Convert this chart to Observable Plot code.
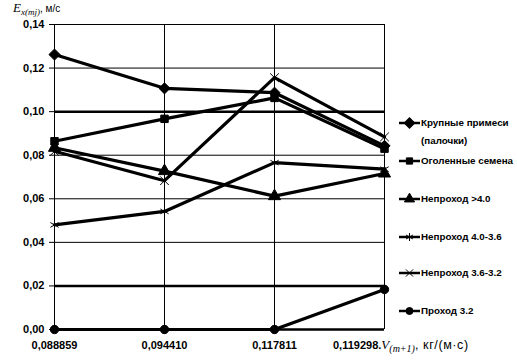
<!DOCTYPE html>
<html><head><meta charset="utf-8">
<script src="https://cdn.jsdelivr.net/npm/d3@7"></script>
<script src="https://cdn.jsdelivr.net/npm/@observablehq/plot@0.6"></script>
<style>
body{margin:0;background:#fff;}
#chart{position:relative;width:517px;height:360px;}
svg text{font-family:"Liberation Sans","Arial",sans-serif;}
</style></head><body><div id="chart"></div>
<script>
const categories = ["0,088859","0,094410","0,117811","0,119298"];
const seriesNames = ["Крупные примеси (палочки)","Оголенные семена","Непроход >4.0","Непроход 4.0-3.6","Непроход 3.6-3.2","Проход 3.2"];
const krupnye = [0.1262, 0.1107, 0.1087, 0.0843];
const ogolennye = [0.0864, 0.0967, 0.1063, 0.0830];
const neprohod40 = [0.0834, 0.0727, 0.0612, 0.0716];
const neprohod4036 = [0.0480, 0.0542, 0.0766, 0.0736];
const neprohod3632 = [0.0818, 0.0683, 0.1156, 0.0884];
const prohod32 = [0, 0, 0, 0.0184];
const yTicks = [0, 0.02, 0.04, 0.06, 0.08, 0.10, 0.12, 0.14];
const thickGrid = [0, 0.02, 0.10];

const allValues = [krupnye, ogolennye, neprohod40, neprohod4036, neprohod3632, prohod32];
const symbols = ["diamond2", "square", "triangle", "asterisk", "times", "circle"];
const filled = [true, true, true, false, false, true];
const radii = [5, 4.2, 4.5, 4.5, 4, 4.2];

const data = [];
seriesNames.forEach((s, i) => allValues[i].forEach((v, j) => data.push({series: s, idx: i, cat: categories[j], value: v})));

const dotMarks = seriesNames.map((s, i) => Plot.dot(data.filter(d => d.idx === i), {
  x: "cat", y: "value", symbol: () => symbols[i], r: radii[i],
  fill: filled[i] ? "black" : "none", stroke: "black", strokeWidth: 1
}));

const ff = '"Liberation Sans","Arial",sans-serif';
const plot = Plot.plot({
  width: 517, height: 360,
  marginLeft: 54, marginRight: 133, marginTop: 24, marginBottom: 31,
  x: {type: "point", domain: categories, padding: 0, label: null},
  y: {domain: [0, 0.14], label: null},
  symbol: {type: "identity"},
  style: {fontFamily: ff, fontSize: "11px", color: "black"},
  marks: [
    Plot.ruleY(yTicks, {y: d => d, stroke: "black", strokeWidth: d => thickGrid.includes(d) ? 2.5 : 1}),
    Plot.ruleX(categories, {x: d => d, stroke: "black", strokeWidth: 1}),
    Plot.axisY(yTicks, {tickFormat: d => d.toFixed(2).replace(".", ","), tickSize: 5, tickPadding: 5, fontWeight: "bold", fontSize: 11, label: null}),
    Plot.axisX(categories.slice(0, 3), {tickSize: 0, tickPadding: 12, fontWeight: "bold", fontSize: 11, label: null}),
    Plot.line(data, {x: "cat", y: "value", z: "series", stroke: "black", strokeWidth: 3.2}),
    ...dotMarks
  ]
});
document.getElementById("chart").appendChild(plot);

const svg = d3.select(plot);
const xs = plot.scale("x");
const ys = plot.scale("y");

// y axis title
const yt = svg.append("text").attr("x", 13).attr("y", 12).attr("text-anchor", "start").attr("fill", "black").style("font-size", "11px");
yt.append("tspan").text("E").style("font-family", "'Liberation Serif',serif").style("font-style", "italic").style("font-size", "13px");
yt.append("tspan").text("x(mj)").attr("dy", 3).style("font-family", "'Liberation Serif',serif").style("font-style", "italic").style("font-size", "9px");
yt.append("tspan").text(", м/с").attr("dy", -3).style("font-family", ff).style("font-size", "10px");

// last x tick with axis label
const lastX = xs.apply(categories[3]);
const xl = svg.append("text").attr("x", lastX - 51).attr("y", ys.apply(0) + 20).attr("text-anchor", "start").attr("fill", "black").style("font-size", "11px").style("font-family", ff);
xl.append("tspan").text(categories[3] + ".").style("font-weight", "bold");
xl.append("tspan").text("V").style("font-family", "'Liberation Serif',serif").style("font-style", "italic").style("font-size", "13px");
xl.append("tspan").text("(m+1)").attr("dy", 3).style("font-family", "'Liberation Serif',serif").style("font-style", "italic").style("font-size", "10px");
xl.append("tspan").text(", кг/(м·с)").attr("dy", -3).style("font-size", "12.5px").style("letter-spacing", "0.6px");

// legend
const legendRows = [123, 161, 199, 237, 273, 311];
const symMap = {diamond2: d3.symbolSquare, square: d3.symbolSquare, triangle: d3.symbolTriangle, asterisk: d3.symbolAsterisk, times: d3.symbolTimes, circle: d3.symbolCircle};
seriesNames.forEach((s, i) => {
  const y = legendRows[i];
  const g = svg.append("g");
  g.append("line").attr("x1", 399).attr("x2", 420).attr("y1", y).attr("y2", y).attr("stroke", "black").attr("stroke-width", 2.5);
  const sz = Math.PI * radii[i] * radii[i] * 0.7;
  g.append("path").attr("d", d3.symbol(symMap[symbols[i]], sz)())
    .attr("transform", `translate(409.5,${y})` + (symbols[i] === "diamond2" ? " rotate(45)" : ""))
    .attr("fill", filled[i] ? "black" : "none").attr("stroke", "black").attr("stroke-width", 1);
  const parts = i === 0 ? ["Крупные примеси", "(палочки)"] : [s];
  parts.forEach((p, k) => {
    g.append("text").attr("x", 421).attr("y", y + k * 18).attr("dy", "0.35em").attr("text-anchor", "start").attr("fill", "black")
      .style("font-family", ff).style("font-size", "9.8px").style("font-weight", "bold").text(p);
  });
});
</script></body></html>
